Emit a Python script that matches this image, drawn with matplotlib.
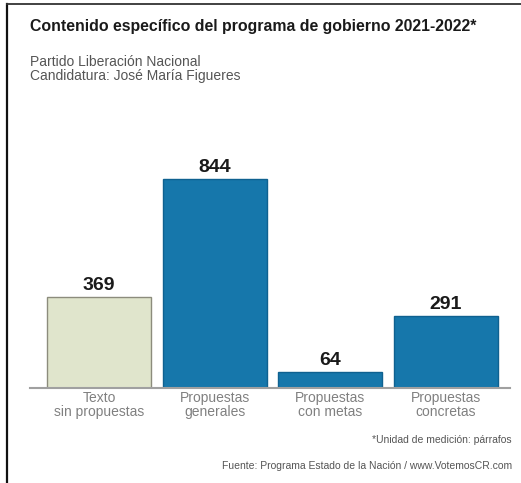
import matplotlib
matplotlib.use("Agg")
import matplotlib.pyplot as plt
from matplotlib.lines import Line2D
import numpy as np

plt.rcParams["font.family"] = ["Liberation Sans", "DejaVu Sans"]

# ---- data ----
categories = ["Texto\nsin propuestas", "Propuestas\ngenerales",
              "Propuestas\ncon metas", "Propuestas\nconcretas"]
values = [369, 844, 64, 291]
face_colors = ["#e0e5cc", "#1677ab", "#1677ab", "#1677ab"]
edge_colors = ["#8c8c7c", "#0f6190", "#0f6190", "#0f6190"]

W, H = 521, 483
fig = plt.figure(figsize=(W / 100, H / 100), dpi=100)
ax = fig.add_axes([30 / W, 1 - 388 / H, 480 / W, 247.6 / H])

x = np.arange(len(values))
ax.bar(x, values, width=0.9, color=face_colors, edgecolor=edge_colors, linewidth=1.0)
for xi, v in zip(x, values):
    ax.text(xi, v + 12, f"{v}", ha="center", va="bottom", fontsize=14,
            fontweight="bold", color="#1a1a1a")

ax.set_xlim(-0.597, 3.553)
ax.set_ylim(0, 1000)
ax.set_yticks([])
ax.set_xticks(x)
ax.set_xticklabels(categories, fontsize=10, color="#808080", linespacing=1.0)
ax.tick_params(axis="x", length=0, pad=2)
for s in ["top", "right", "left"]:
    ax.spines[s].set_visible(False)
ax.spines["bottom"].set_color("#a0a0a0")
ax.spines["bottom"].set_linewidth(1.5)

# ---- texts ----
fig.text(30 / W, 1 - 26 / H, "Contenido específico del programa de gobierno 2021-2022*",
         ha="left", va="center", fontsize=11.4, fontweight="bold", color="#1a1a1a")
fig.text(30 / W, 1 - 69 / H, "Partido Liberación Nacional\nCandidatura: José María Figueres",
         ha="left", va="center", fontsize=10, color="#555555", linespacing=1.0)
fig.text(512 / W, 1 - 440 / H, "*Unidad de medición: párrafos",
         ha="right", va="center", fontsize=7.5, color="#555555")
fig.text(512 / W, 1 - 466 / H, "Fuente: Programa Estado de la Nación / www.VotemosCR.com",
         ha="right", va="center", fontsize=7.5, color="#555555")

# ---- frame (left and top) ----
fig.add_artist(Line2D([6.5 / W, 6.5 / W], [0, 1 - 4 / H], color="#111111", linewidth=1.6))
fig.add_artist(Line2D([6.5 / W, 1], [1 - 4 / H, 1 - 4 / H], color="#333333", linewidth=1.3))

fig.savefig("out.png", dpi=100)
